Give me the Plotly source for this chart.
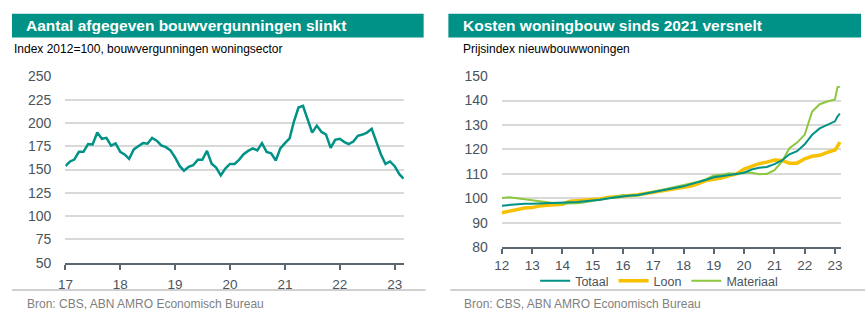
import plotly.graph_objects as go
import pandas as pd

# ---------------- data ----------------
permit_months = pd.date_range("2017-01-01", periods=75, freq="MS")
permits = [153.6, 158.7, 160.7, 169, 169, 177.4, 177, 189.7, 183, 184, 175.7, 178, 169,
           166, 161.4, 171.6, 175, 178.4, 177.8, 184, 181, 176, 174, 170.6, 163,
           153.6, 148.8, 153, 154.6, 160.4, 160.4, 170, 156.3, 152.2, 143.7, 151, 156,
           156, 160.4, 166.5, 170, 172.7, 170.6, 178.4, 169, 167.5, 159.7, 172.7, 178.4,
           183.6, 201.3, 216.6, 218.3, 204, 189.7, 197.2, 190.4, 187.6, 173.3, 181.9, 183,
           179.5, 177.4, 180, 186.3, 187.6, 189.7, 193.8, 180, 166.5, 156, 158.7, 153.6,
           145, 140.3]

cost_dates = list(pd.date_range("2012-01-01", "2023-01-01", freq="QS")) + \
    [pd.Timestamp("2023-02-01"), pd.Timestamp("2023-03-01")]
totaal = [97.0, 97.3, 97.6, 97.8, 97.8, 97.9, 98.0, 98.0, 98.1, 98.3, 98.5, 98.8,
          99.0, 99.4, 99.9, 100.4, 101.0, 101.2, 101.4, 102.0, 102.6, 103.1, 103.7, 104.3,
          104.9, 105.8, 106.6, 107.6, 108.6, 109.0, 109.3, 110.0, 110.5, 111.8, 112.5, 112.8,
          114.0, 115.5, 118.0, 119.3, 122.1, 126.0, 128.6, 130.0, 131.5, 133.5, 134.7]
loon = [94.1, 94.8, 95.2, 96.0, 96.2, 96.9, 97.2, 97.4, 97.6, 98.8, 99.0, 99.2,
        99.4, 99.7, 100.3, 100.5, 101.0, 101.2, 101.5, 102.0, 102.3, 102.8, 103.4, 103.8,
        104.5, 105.0, 106.0, 107.3, 107.8, 108.3, 109.2, 110.0, 112.0, 113.0, 114.2, 114.8,
        115.7, 115.5, 114.4, 114.4, 116.2, 117.2, 117.6, 118.8, 119.8, 121.3, 123.0]
materiaal = [100.1, 100.4, 100.0, 99.6, 99.2, 98.8, 98.3, 98.0, 97.9, 97.9, 98.0, 98.4,
             99.0, 99.4, 100.0, 100.7, 101.3, 101.0, 101.2, 102.0, 102.7, 103.2, 103.8, 104.5,
             105.2, 106.0, 106.8, 107.8, 109.3, 109.6, 110.3, 110.0, 110.6, 110.5, 109.9, 110.0,
             111.5, 115.0, 120.5, 122.8, 126.0, 135.5, 138.5, 139.6, 140.5, 145.5, 145.7]

left_years = list(range(2017, 2024))
right_years = list(range(2012, 2024))
left_ticktext = [str(y % 100) for y in left_years]
right_ticktext = [str(y % 100) for y in right_years]

titles = ["Aantal afgegeven bouwvergunningen slinkt", "Kosten woningbouw sinds 2021 versnelt"]
subtitles = ["Index 2012=100, bouwvergunningen woningsector", "Prijsindex nieuwbouwwoningen"]
source = "Bron: CBS, ABN AMRO Economisch Bureau"

# ---------------- style ----------------
W, H = 866, 322
TEAL = "#009286"
YELLOW = "#f7c000"
LGREEN = "#8dc63f"
TICK = "#4a545c"
AXIS = "#5b6770"
GRID = "#d9d9d9"
FONT = "Liberation Sans, Arial, sans-serif"

def px(x):
    return x / W

def py(y):
    return 1 - y / H

fig = go.Figure()

fig.add_trace(go.Scatter(x=permit_months, y=permits, mode="lines",
                         line=dict(color=TEAL, width=2.5), showlegend=False,
                         xaxis="x", yaxis="y"))

fig.add_trace(go.Scatter(x=cost_dates, y=loon, mode="lines", name="Loon", legendrank=2,
                         line=dict(color=YELLOW, width=3.5), xaxis="x2", yaxis="y2"))
fig.add_trace(go.Scatter(x=cost_dates, y=materiaal, mode="lines", name="Materiaal", legendrank=3,
                         line=dict(color=LGREEN, width=2), xaxis="x2", yaxis="y2"))
fig.add_trace(go.Scatter(x=cost_dates, y=totaal, mode="lines", name="Totaal", legendrank=1,
                         line=dict(color=TEAL, width=2), xaxis="x2", yaxis="y2"))

xcommon = dict(showgrid=False, zeroline=False, showline=True, linecolor=AXIS, linewidth=2,
               ticks="outside", ticklen=5, tickwidth=2, tickcolor=AXIS,
               tickfont=dict(family=FONT, size=13.5, color=TICK), type="date")
ycommon = dict(showgrid=True, gridcolor=GRID, gridwidth=1.5, zeroline=False, showline=False,
               ticks="", tickfont=dict(family=FONT, size=14, color=TICK), ticklabelstandoff=13)

fig.update_layout(
    width=W, height=H, margin=dict(l=0, r=0, t=0, b=0),
    paper_bgcolor="white", plot_bgcolor="white",
    font=dict(family=FONT),
    xaxis=dict(xcommon, domain=[px(58), px(400)],
               range=["2017-01-01", "2023-03-03"], ticklabelstandoff=3,
               tickvals=[f"{y}-01-01" for y in left_years], ticktext=left_ticktext,
               anchor="y"),
    yaxis=dict(ycommon, domain=[py(268), py(72)], range=[50, 250], dtick=25,
               anchor="x"),
    xaxis2=dict(xcommon, domain=[px(499), px(842)],
                range=["2012-01-01", "2023-03-18"], ticklabelstandoff=0,
                tickvals=[f"{y}-01-01" for y in right_years], ticktext=right_ticktext,
                anchor="y2"),
    yaxis2=dict(ycommon, domain=[py(251.7), py(71.7)], range=[80, 150], dtick=10,
                anchor="x2"),
    legend=dict(orientation="h", x=px(658), xanchor="center", y=py(287.5), yanchor="middle",
                font=dict(family=FONT, size=12.5, color=TICK), traceorder="normal",
                bgcolor="rgba(0,0,0,0)", itemwidth=30, tracegroupgap=0),
    showlegend=True,
)

shapes = []
annotations = []
panels = [(4, 420, 16, 4), (445, 862, 458, 458)]
for i, (x0, x1, tx, sx) in enumerate(panels):
    shapes.append(dict(type="rect", xref="paper", yref="paper", x0=px(x0), x1=px(x1),
                       y0=py(31), y1=py(6), fillcolor=TEAL, line=dict(width=0), layer="below"))
    annotations.append(dict(xref="paper", yref="paper", x=px(tx), y=py(18.5), xanchor="left",
                            yanchor="middle", text=f"<b>{titles[i]}</b>", showarrow=False,
                            font=dict(family=FONT, size=15.5, color="white")))
    annotations.append(dict(xref="paper", yref="paper", x=px(sx), y=py(43.5), xanchor="left",
                            yanchor="middle", text=subtitles[i], showarrow=False,
                            font=dict(family=FONT, size=12, color="black")))
footer_lines = [(4, 422, 17), (447, 866, 459)]
for x0, x1, tx in footer_lines:
    shapes.append(dict(type="line", xref="paper", yref="paper", x0=px(x0), x1=px(x1),
                       y0=py(296.7), y1=py(296.7), line=dict(color="#c0c0c0", width=1.5)))
    annotations.append(dict(xref="paper", yref="paper", x=px(tx), y=py(311.5), xanchor="left",
                            yanchor="middle", text=source, showarrow=False,
                            font=dict(family=FONT, size=12, color="#7f7f7f")))

fig.update_layout(shapes=shapes, annotations=annotations)

fig.write_html("out.html")
